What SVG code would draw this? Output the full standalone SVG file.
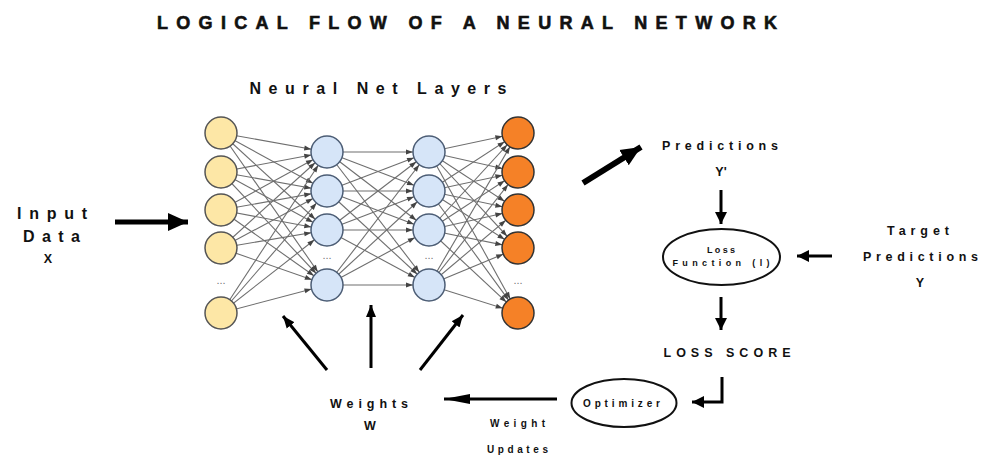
<svg xmlns="http://www.w3.org/2000/svg" width="997" height="467" viewBox="0 0 997 467">
<style>
text{font-family:"Liberation Sans",Arial,sans-serif;font-weight:bold;fill:#111;text-anchor:middle}
.t{font-size:18px;font-weight:900;stroke:#111;stroke-width:0.6}
.m{font-size:16px}
.s{font-size:12.5px}
.xs{font-size:9px}
.c{stroke:#6e6e6e;stroke-width:1.1;fill:none;marker-end:url(#nh)}
.a{stroke:#000;fill:none}
.in{fill:#fde7a6;stroke:#555;stroke-width:1.5}
.hid{fill:#d6e5f8;stroke:#4c5d75;stroke-width:1.5}
.out{fill:#f58127;stroke:#333;stroke-width:1.5}
.dots{font-size:11px;font-weight:normal;fill:#777}
</style>
<defs>
<marker id="nh" markerUnits="userSpaceOnUse" viewBox="-30 -5 30 10" markerWidth="30" markerHeight="10" refX="0" refY="0" orient="auto"><path d="M-23,-2.5 L-16,0 L-23,2.5 z" fill="#444"/></marker>
<marker id="hl" markerUnits="userSpaceOnUse" viewBox="0 -10 22 20" markerWidth="22" markerHeight="20" refX="20" refY="0" orient="auto"><path d="M0,-9 L20,0 L0,9 z" fill="#000"/></marker>
<marker id="hm" markerUnits="userSpaceOnUse" viewBox="0 -7 14 14" markerWidth="14" markerHeight="14" refX="12" refY="0" orient="auto"><path d="M0,-6 L12,0 L0,6 z" fill="#000"/></marker>
<marker id="hs" markerUnits="userSpaceOnUse" viewBox="0 -6 14 12" markerWidth="14" markerHeight="12" refX="12" refY="0" orient="auto"><path d="M0,-5 L12,0 L0,5 z" fill="#000"/></marker>
<marker id="hw" markerUnits="userSpaceOnUse" viewBox="0 -6 28 12" markerWidth="28" markerHeight="12" refX="26" refY="0" orient="auto"><path d="M0,-5 L26,0 L0,5 z" fill="#000"/></marker>
</defs>
<rect width="997" height="467" fill="#fff"/>
<text class="t" x="467" y="29" textLength="620" lengthAdjust="spacing">LOGICAL FLOW OF A NEURAL NETWORK</text>
<text class="m" x="378" y="94" textLength="257" lengthAdjust="spacing">Neural Net Layers</text>

<g id="connectors">
<g id="net-links">
<line class="c" x1="221" y1="133" x2="327" y2="152"/><line class="c" x1="221" y1="133" x2="327" y2="191"/><line class="c" x1="221" y1="133" x2="327" y2="230"/><line class="c" x1="221" y1="133" x2="327" y2="285"/>
<line class="c" x1="221" y1="172" x2="327" y2="152"/><line class="c" x1="221" y1="172" x2="327" y2="191"/><line class="c" x1="221" y1="172" x2="327" y2="230"/><line class="c" x1="221" y1="172" x2="327" y2="285"/>
<line class="c" x1="221" y1="210" x2="327" y2="152"/><line class="c" x1="221" y1="210" x2="327" y2="191"/><line class="c" x1="221" y1="210" x2="327" y2="230"/><line class="c" x1="221" y1="210" x2="327" y2="285"/>
<line class="c" x1="221" y1="248" x2="327" y2="152"/><line class="c" x1="221" y1="248" x2="327" y2="191"/><line class="c" x1="221" y1="248" x2="327" y2="230"/><line class="c" x1="221" y1="248" x2="327" y2="285"/>
<line class="c" x1="221" y1="313" x2="327" y2="152"/><line class="c" x1="221" y1="313" x2="327" y2="191"/><line class="c" x1="221" y1="313" x2="327" y2="230"/><line class="c" x1="221" y1="313" x2="327" y2="285"/>
<line class="c" x1="327" y1="152" x2="429" y2="152"/><line class="c" x1="327" y1="152" x2="429" y2="191"/><line class="c" x1="327" y1="152" x2="429" y2="230"/><line class="c" x1="327" y1="152" x2="429" y2="285"/>
<line class="c" x1="327" y1="191" x2="429" y2="152"/><line class="c" x1="327" y1="191" x2="429" y2="191"/><line class="c" x1="327" y1="191" x2="429" y2="230"/><line class="c" x1="327" y1="191" x2="429" y2="285"/>
<line class="c" x1="327" y1="230" x2="429" y2="152"/><line class="c" x1="327" y1="230" x2="429" y2="191"/><line class="c" x1="327" y1="230" x2="429" y2="230"/><line class="c" x1="327" y1="230" x2="429" y2="285"/>
<line class="c" x1="327" y1="285" x2="429" y2="152"/><line class="c" x1="327" y1="285" x2="429" y2="191"/><line class="c" x1="327" y1="285" x2="429" y2="230"/><line class="c" x1="327" y1="285" x2="429" y2="285"/>
<line class="c" x1="429" y1="152" x2="518" y2="133"/><line class="c" x1="429" y1="152" x2="518" y2="172"/><line class="c" x1="429" y1="152" x2="518" y2="210"/><line class="c" x1="429" y1="152" x2="518" y2="248"/><line class="c" x1="429" y1="152" x2="518" y2="313"/>
<line class="c" x1="429" y1="191" x2="518" y2="133"/><line class="c" x1="429" y1="191" x2="518" y2="172"/><line class="c" x1="429" y1="191" x2="518" y2="210"/><line class="c" x1="429" y1="191" x2="518" y2="248"/><line class="c" x1="429" y1="191" x2="518" y2="313"/>
<line class="c" x1="429" y1="230" x2="518" y2="133"/><line class="c" x1="429" y1="230" x2="518" y2="172"/><line class="c" x1="429" y1="230" x2="518" y2="210"/><line class="c" x1="429" y1="230" x2="518" y2="248"/><line class="c" x1="429" y1="230" x2="518" y2="313"/>
<line class="c" x1="429" y1="285" x2="518" y2="133"/><line class="c" x1="429" y1="285" x2="518" y2="172"/><line class="c" x1="429" y1="285" x2="518" y2="210"/><line class="c" x1="429" y1="285" x2="518" y2="248"/><line class="c" x1="429" y1="285" x2="518" y2="313"/>
</g>
<line class="a" x1="115" y1="222" x2="188" y2="222" stroke-width="5" marker-end="url(#hl)"/>
<line class="a" x1="583" y1="183" x2="641" y2="147" stroke-width="6" marker-end="url(#hl)"/>
<line class="a" x1="721" y1="190" x2="721" y2="224" stroke-width="3" marker-end="url(#hm)"/>
<line class="a" x1="832" y1="256" x2="797" y2="256" stroke-width="3" marker-end="url(#hm)"/>
<line class="a" x1="721" y1="297" x2="721" y2="330" stroke-width="3" marker-end="url(#hm)"/>
<path class="a" d="M722,377 V402 H692" stroke-width="3" marker-end="url(#hm)"/>
<line class="a" x1="557" y1="399" x2="444" y2="399" stroke-width="3" marker-end="url(#hw)"/>
<line class="a" x1="327" y1="370" x2="283" y2="316" stroke-width="3" marker-end="url(#hs)"/>
<line class="a" x1="371" y1="368" x2="371" y2="305" stroke-width="3" marker-end="url(#hs)"/>
<line class="a" x1="420" y1="370" x2="463" y2="315" stroke-width="3" marker-end="url(#hs)"/>
</g>

<g id="input-layer">
<circle class="in" cx="221" cy="133" r="16"/><circle class="in" cx="221" cy="172" r="16"/><circle class="in" cx="221" cy="210" r="16"/><circle class="in" cx="221" cy="248" r="16"/><circle class="in" cx="221" cy="313" r="16"/>
<text class="dots" x="221" y="284">...</text>
</g>
<g id="hidden-layer-1">
<circle class="hid" cx="327" cy="152" r="16"/><circle class="hid" cx="327" cy="191" r="16"/><circle class="hid" cx="327" cy="230" r="16"/><circle class="hid" cx="327" cy="285" r="16"/>
<text class="dots" x="327" y="259">...</text>
</g>
<g id="hidden-layer-2">
<circle class="hid" cx="429" cy="152" r="16"/><circle class="hid" cx="429" cy="191" r="16"/><circle class="hid" cx="429" cy="230" r="16"/><circle class="hid" cx="429" cy="285" r="16"/>
<text class="dots" x="429" y="259">...</text>
</g>
<g id="output-layer">
<circle class="out" cx="518" cy="133" r="16"/><circle class="out" cx="518" cy="172" r="16"/><circle class="out" cx="518" cy="210" r="16"/><circle class="out" cx="518" cy="248" r="16"/><circle class="out" cx="518" cy="313" r="16"/>
<text class="dots" x="518" y="284">...</text>
</g>

<g id="input-data">
<text class="m" x="52" y="219" textLength="70" lengthAdjust="spacing">Input</text>
<text class="m" x="51.5" y="242" textLength="57" lengthAdjust="spacing">Data</text>
<text class="s" x="48" y="263">X</text>
</g>
<g id="predictions">
<text class="s" x="720" y="150" textLength="116" lengthAdjust="spacing">Predictions</text>
<text class="s" x="721" y="176">Y'</text>
</g>
<g id="loss-function">
<ellipse cx="721.5" cy="257" rx="58.5" ry="28" fill="#fff" stroke="#111" stroke-width="2"/>
<text class="xs" x="721" y="253" textLength="28" lengthAdjust="spacing">Loss</text>
<text class="xs" x="721" y="266" textLength="97" lengthAdjust="spacing">Function (l)</text>
</g>
<g id="target-predictions">
<text class="s" x="918" y="235" textLength="62" lengthAdjust="spacing">Target</text>
<text class="s" x="920.5" y="261" textLength="115" lengthAdjust="spacing">Predictions</text>
<text class="s" x="920" y="287">Y</text>
</g>
<g id="loss-score">
<text class="s" x="727" y="357" textLength="127" lengthAdjust="spacing">LOSS SCORE</text>
</g>
<g id="optimizer">
<ellipse cx="624" cy="403" rx="52.5" ry="24" fill="#fff" stroke="#111" stroke-width="2"/>
<text class="xs" x="621.5" y="407" textLength="77" lengthAdjust="spacing" style="font-size:10px">Optimizer</text>
</g>
<g id="weights">
<text class="s" x="369" y="408" textLength="78" lengthAdjust="spacing">Weights</text>
<text class="s" x="370" y="430">W</text>
</g>
<g id="weight-updates">
<text class="xs" x="517.5" y="427" textLength="55" lengthAdjust="spacing" style="font-size:10px">Weight</text>
<text class="xs" x="517.5" y="453" textLength="61" lengthAdjust="spacing" style="font-size:10px">Updates</text>
</g>
</svg>
